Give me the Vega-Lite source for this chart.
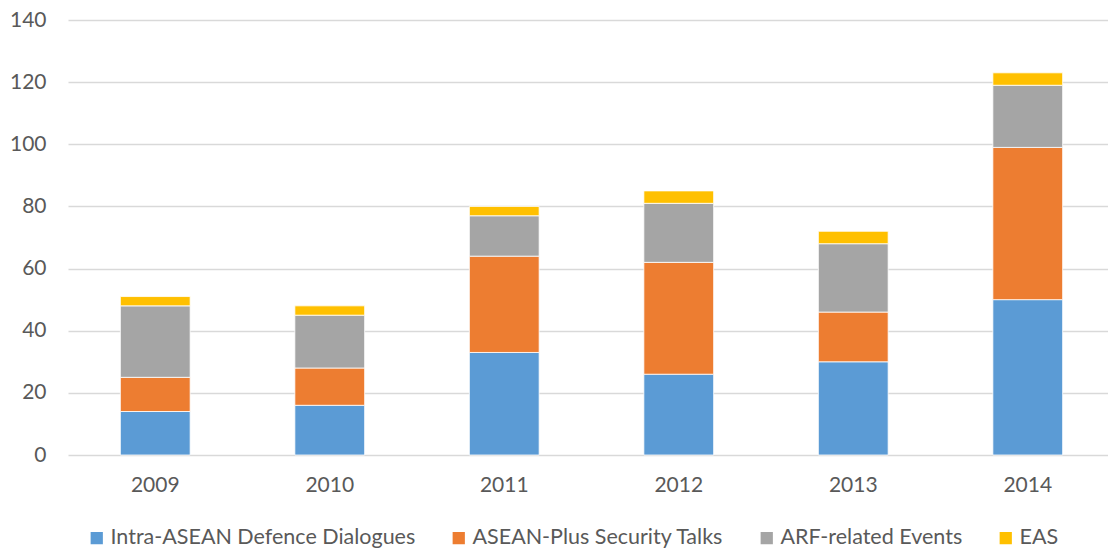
{
  "$schema": "https://vega.github.io/schema/vega-lite/v6.json",
  "width": 1047,
  "height": 435,
  "autosize": "none",
  "padding": {"left": 68, "top": 20, "right": 0, "bottom": 97},
  "background": "white",
  "config": {
    "view": {"stroke": null},
    "font": "Lato",
    "axis": {"labelFont": "Lato", "labelFontSize": 21, "labelColor": "#595959", "domain": false, "ticks": false, "gridColor": "#D9D9D9", "gridWidth": 1.6},
    "legend": {"labelFont": "Lato", "labelFontSize": 21.5, "labelColor": "#595959", "labelLimit": 500}
  },
  "data": {
    "values": [
      {"year": "2009", "series": "Intra-ASEAN Defence Dialogues", "value": 14},
      {"year": "2009", "series": "ASEAN-Plus Security Talks", "value": 11},
      {"year": "2009", "series": "ARF-related Events", "value": 23},
      {"year": "2009", "series": "EAS", "value": 3},
      {"year": "2010", "series": "Intra-ASEAN Defence Dialogues", "value": 16},
      {"year": "2010", "series": "ASEAN-Plus Security Talks", "value": 12},
      {"year": "2010", "series": "ARF-related Events", "value": 17},
      {"year": "2010", "series": "EAS", "value": 3},
      {"year": "2011", "series": "Intra-ASEAN Defence Dialogues", "value": 33},
      {"year": "2011", "series": "ASEAN-Plus Security Talks", "value": 31},
      {"year": "2011", "series": "ARF-related Events", "value": 13},
      {"year": "2011", "series": "EAS", "value": 3},
      {"year": "2012", "series": "Intra-ASEAN Defence Dialogues", "value": 26},
      {"year": "2012", "series": "ASEAN-Plus Security Talks", "value": 36},
      {"year": "2012", "series": "ARF-related Events", "value": 19},
      {"year": "2012", "series": "EAS", "value": 4},
      {"year": "2013", "series": "Intra-ASEAN Defence Dialogues", "value": 30},
      {"year": "2013", "series": "ASEAN-Plus Security Talks", "value": 16},
      {"year": "2013", "series": "ARF-related Events", "value": 22},
      {"year": "2013", "series": "EAS", "value": 4},
      {"year": "2014", "series": "Intra-ASEAN Defence Dialogues", "value": 50},
      {"year": "2014", "series": "ASEAN-Plus Security Talks", "value": 49},
      {"year": "2014", "series": "ARF-related Events", "value": 20},
      {"year": "2014", "series": "EAS", "value": 4}
    ]
  },
  "transform": [
    {"calculate": "indexof(['Intra-ASEAN Defence Dialogues','ASEAN-Plus Security Talks','ARF-related Events','EAS'], datum.series)", "as": "k"}
  ],
  "mark": {"type": "bar", "stroke": "white", "strokeWidth": 0.8},
  "encoding": {
    "x": {
      "field": "year", "type": "nominal", "title": null,
      "scale": {"paddingInner": 0.6, "paddingOuter": 0.3},
      "axis": {"labelAngle": 0, "grid": false, "labelPadding": 19}
    },
    "y": {
      "field": "value", "type": "quantitative", "aggregate": "sum", "stack": "zero", "title": null,
      "scale": {"domain": [0, 140], "nice": false},
      "axis": {"values": [0, 20, 40, 60, 80, 100, 120, 140], "labelPadding": 22, "grid": true}
    },
    "color": {
      "field": "series", "type": "nominal", "title": null,
      "scale": {
        "domain": ["Intra-ASEAN Defence Dialogues", "ASEAN-Plus Security Talks", "ARF-related Events", "EAS"],
        "range": ["#5B9BD5", "#ED7D31", "#A5A5A5", "#FFC000"]
      },
      "legend": {"orient": "none", "legendX": 18, "legendY": 507, "direction": "horizontal", "symbolType": "square", "symbolSize": 150, "symbolStrokeWidth": 0, "columnPadding": 32, "labelOffset": 3}
    },
    "order": {"field": "k", "type": "quantitative"}
  }
}
